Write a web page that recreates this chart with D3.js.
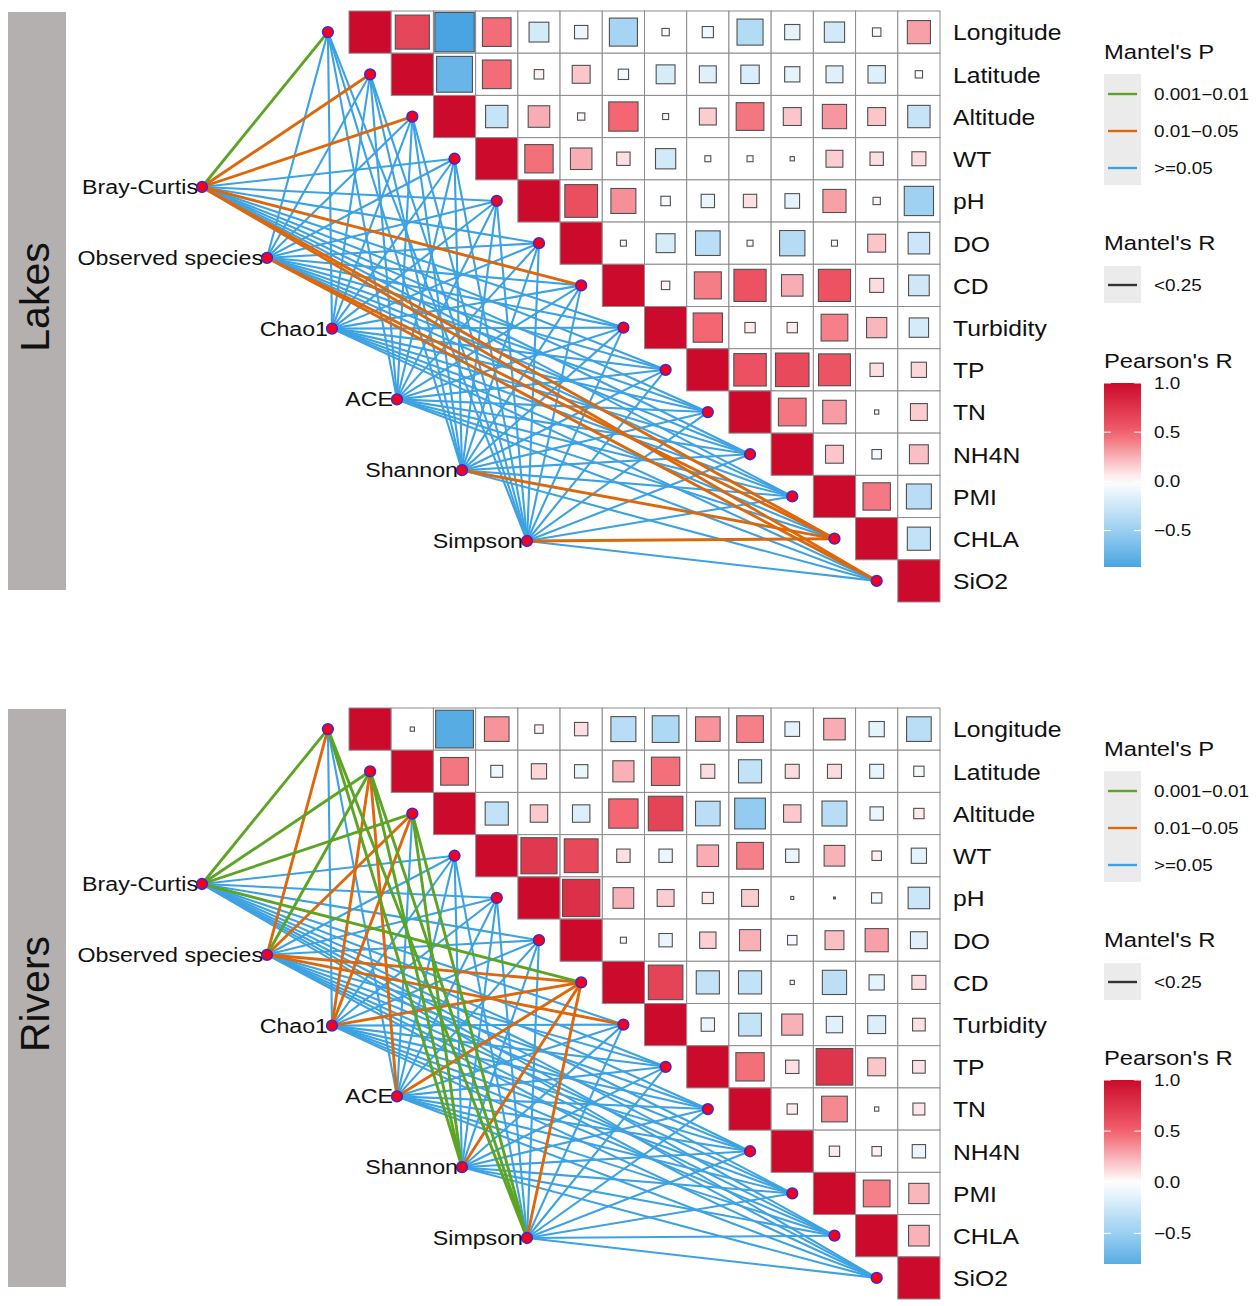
<!DOCTYPE html>
<html>
<head>
<meta charset="utf-8">
<script src="https://cdn.jsdelivr.net/npm/d3@7"></script>
<style>
body { margin: 0; background: #fff; }
text { font-family: "Liberation Sans", Arial, Helvetica, sans-serif; fill: #111; }
</style>
</head>
<body>
<div id="chart"></div>
<script>
// Environmental variables (matrix rows / columns)
var envVars = ["Longitude", "Latitude", "Altitude", "WT", "pH", "DO", "CD",
    "Turbidity", "TP", "TN", "NH4N", "PMI", "CHLA", "SiO2"];

// Community metrics on the left
var speciesNames = ["Bray-Curtis", "Observed species", "Chao1", "ACE", "Shannon", "Simpson"];

// Legend labels
var pLabels = ["0.001\u22120.01", "0.01\u22120.05", ">=0.05"];
var rLabels = ["<0.25"];
var pearsonTicks = [1.0, 0.5, 0.0, -0.5];

// Pearson's R, upper triangle: row i lists columns i+1 .. 13
var lakesCorr = [
    [0.65, -0.87, 0.46, -0.22, -0.10, -0.44, -0.03, -0.07, -0.38, -0.13, -0.23, -0.04, 0.30],
    [-0.72, 0.46, 0.05, 0.18, -0.06, -0.20, -0.16, -0.19, -0.13, -0.16, -0.17, -0.03],
    [-0.28, 0.26, 0.03, 0.48, 0.02, 0.16, 0.43, 0.18, 0.33, 0.18, -0.28],
    [0.45, 0.26, 0.10, -0.23, 0.02, 0.02, 0.01, 0.16, 0.10, 0.11],
    [0.60, 0.35, -0.05, -0.10, 0.10, -0.12, 0.30, 0.03, -0.48],
    [0.02, -0.20, -0.34, 0.02, -0.36, -0.02, 0.18, -0.26],
    [0.04, 0.41, 0.58, 0.26, 0.58, 0.11, -0.24],
    [0.48, 0.06, 0.06, 0.40, 0.23, -0.21],
    [0.59, 0.63, 0.57, 0.10, 0.13],
    [0.43, 0.31, 0.01, 0.16],
    [0.18, -0.05, 0.20],
    [0.42, -0.35],
    [-0.30]
];

var riversCorr = [
    [0.01, -0.80, 0.34, 0.04, 0.10, -0.35, -0.40, 0.34, 0.40, -0.12, 0.26, -0.13, -0.34],
    [0.43, -0.08, 0.13, -0.10, 0.25, 0.45, 0.11, -0.30, 0.11, 0.11, -0.11, -0.06],
    [-0.30, 0.17, -0.17, 0.48, 0.67, -0.34, -0.53, 0.17, -0.35, -0.10, 0.06],
    [0.73, 0.64, 0.10, -0.10, 0.26, 0.40, -0.10, 0.24, 0.05, -0.13],
    [0.78, 0.24, 0.16, 0.07, 0.16, 0.005, 0.002, -0.06, -0.26],
    [0.02, -0.10, 0.15, 0.25, -0.05, 0.20, 0.30, -0.16],
    [0.67, -0.30, -0.30, 0.01, -0.33, -0.13, 0.11],
    [-0.10, -0.29, 0.25, -0.15, -0.18, 0.09],
    [0.45, 0.10, 0.75, 0.18, 0.09],
    [0.06, 0.37, 0.01, 0.08],
    [0.06, 0.05, -0.10],
    [0.40, 0.23],
    [0.24]
];

// Mantel's P class per metric (rows) x env variable (cols): 0 = 0.001-0.01, 1 = 0.01-0.05, 2 = >=0.05
var lakesP = [
    [0, 1, 1, 2, 2, 2, 1, 2, 2, 2, 2, 2, 1, 1],
    [2, 2, 2, 2, 2, 2, 2, 2, 2, 2, 2, 2, 1, 1],
    [2, 2, 2, 2, 2, 2, 2, 2, 2, 2, 2, 2, 2, 2],
    [2, 2, 2, 2, 2, 2, 2, 2, 2, 2, 2, 2, 2, 2],
    [2, 2, 2, 2, 2, 2, 2, 2, 2, 2, 2, 2, 1, 2],
    [2, 2, 2, 2, 2, 2, 2, 2, 2, 2, 2, 2, 1, 2]
];

var riversP = [
    [0, 0, 0, 2, 2, 2, 0, 2, 2, 2, 2, 2, 2, 2],
    [1, 0, 1, 2, 2, 2, 1, 1, 2, 2, 2, 2, 2, 2],
    [2, 1, 1, 2, 2, 2, 1, 2, 2, 2, 2, 2, 2, 2],
    [2, 1, 2, 2, 2, 2, 1, 2, 2, 2, 2, 2, 2, 2],
    [0, 0, 0, 2, 2, 2, 1, 2, 2, 2, 2, 2, 2, 2],
    [0, 0, 0, 2, 2, 2, 1, 2, 2, 2, 2, 2, 2, 2]
];

var pColors = ["#5BA424", "#DD680C", "#3DA2E2"];

var svgWidth = 1259;
var svgHeight = 1306;

var svg = d3.select("#chart")
    .append("svg")
    .attr("width", svgWidth)
    .attr("height", svgHeight);

// text in the figure is a bit wider than it is tall
var stretch = 1.16;

function addText(g, x, y, str, size, anchor) {
    return g.append("text")
        .attr("transform", `translate(${x},${y}) scale(${stretch},1)`)
        .attr("font-size", size)
        .attr("text-anchor", anchor || "start")
        .attr("dominant-baseline", "central")
        .text(str);
}

var fillScale = d3.scaleLinear()
    .domain([-1, -0.5, 0, 0.5, 1])
    .range(["#2C95DC", "#9ACFF1", "#FFFFFF", "#F2606C", "#CB0A2C"]);

var panels = [
    { name: "Lakes", corr: lakesCorr, mantel: lakesP, top: 0 },
    { name: "Rivers", corr: riversCorr, mantel: riversP, top: 697 }
];

var defs = svg.append("defs");

panels.forEach(function(panel, pi) {
    var g = svg.append("g").attr("transform", `translate(0, ${panel.top})`);

    // side strip
    g.append("rect")
        .attr("x", 8).attr("y", 12)
        .attr("width", 58).attr("height", 578)
        .attr("fill", "#B4B0B0");
    g.append("text")
        .attr("transform", "translate(35, 297) rotate(-90)")
        .attr("font-size", 41)
        .attr("text-anchor", "middle")
        .attr("dominant-baseline", "central")
        .text(panel.name);

    // scales for the matrix
    var x = d3.scaleBand().domain(envVars).range([349, 940]);
    var y = d3.scaleBand().domain(envVars).range([11, 602]);
    var bw = x.bandwidth();
    var bh = y.bandwidth();

    var sx = d3.scalePoint().domain(speciesNames).range([202, 527]);
    var sy = d3.scalePoint().domain(speciesNames).range([187, 541]);

    // build cells
    var cells = [];
    envVars.forEach(function(rowName, i) {
        envVars.forEach(function(colName, j) {
            if (j < i) return;
            var r = (i === j) ? 1 : panel.corr[i][j - i - 1];
            cells.push({ row: rowName, col: colName, r: r, diag: i === j });
        });
    });

    var minR = d3.min(cells, d => d.r);

    // Mantel links
    var links = [];
    speciesNames.forEach(function(s, si) {
        envVars.forEach(function(e, ei) {
            links.push({ s: s, e: e, p: panel.mantel[si][ei] });
        });
    });
    links.sort((a, b) => b.p - a.p);

    g.append("g").selectAll("line")
        .data(links)
        .enter()
        .append("line")
        .attr("x1", d => sx(d.s))
        .attr("y1", d => sy(d.s))
        .attr("x2", d => x(d.e) - bw / 2)
        .attr("y2", d => y(d.e) + bh / 2)
        .attr("stroke", d => pColors[d.p])
        .attr("stroke-width", d => d.p === 2 ? 2.1 : 2.9);

    // matrix cells
    var cellG = g.append("g").selectAll("g")
        .data(cells)
        .enter()
        .append("g")
        .attr("transform", d => `translate(${x(d.col)}, ${y(d.row)})`);

    cellG.append("rect")
        .attr("width", bw)
        .attr("height", bh)
        .attr("fill", d => d.diag ? fillScale(1) : "#FFFFFF")
        .attr("stroke", "#8C8C8C")
        .attr("stroke-width", 1);

    cellG.filter(d => !d.diag)
        .append("rect")
        .attr("x", d => (bw - Math.sqrt(Math.abs(d.r)) * bw) / 2)
        .attr("y", d => (bh - Math.sqrt(Math.abs(d.r)) * bh) / 2)
        .attr("width", d => Math.sqrt(Math.abs(d.r)) * bw)
        .attr("height", d => Math.sqrt(Math.abs(d.r)) * bh)
        .attr("fill", d => fillScale(d.r))
        .attr("stroke", "#505050")
        .attr("stroke-width", 1.1);

    // nodes
    g.append("g").selectAll("circle")
        .data(envVars)
        .enter()
        .append("circle")
        .attr("cx", d => x(d) - bw / 2)
        .attr("cy", d => y(d) + bh / 2)
        .attr("r", 5.4)
        .attr("fill", "#F5001E")
        .attr("stroke", "#3A2BD0")
        .attr("stroke-width", 1.5);

    g.append("g").selectAll("circle")
        .data(speciesNames)
        .enter()
        .append("circle")
        .attr("cx", d => sx(d))
        .attr("cy", d => sy(d))
        .attr("r", 5.4)
        .attr("fill", "#F5001E")
        .attr("stroke", "#3A2BD0")
        .attr("stroke-width", 1.5);

    // labels
    envVars.forEach(function(e) {
        addText(g, 953, y(e) + bh / 2 + 1, e, 21.3, "start");
    });
    speciesNames.forEach(function(s) {
        addText(g, sx(s) - 4, sy(s), s, 20, "end");
    });

    // legend: Mantel's P
    var lx = 1104;
    addText(g, lx, 52, "Mantel's P", 20.5, "start");
    g.append("rect")
        .attr("x", lx).attr("y", 74)
        .attr("width", 37).attr("height", 111)
        .attr("fill", "#EBEBEB");
    pLabels.forEach(function(lab, k) {
        var ly = 94 + 37 * k;
        g.append("line")
            .attr("x1", lx + 4).attr("x2", lx + 33)
            .attr("y1", ly).attr("y2", ly)
            .attr("stroke", pColors[k])
            .attr("stroke-width", 2.4);
        addText(g, 1154, ly, lab, 16.3, "start");
    });

    // legend: Mantel's R
    addText(g, lx, 243, "Mantel's R", 20.5, "start");
    g.append("rect")
        .attr("x", lx).attr("y", 266)
        .attr("width", 37).attr("height", 37)
        .attr("fill", "#EBEBEB");
    rLabels.forEach(function(lab) {
        g.append("line")
            .attr("x1", lx + 4).attr("x2", lx + 33)
            .attr("y1", 285).attr("y2", 285)
            .attr("stroke", "#333333")
            .attr("stroke-width", 2.4);
        addText(g, 1154, 285, lab, 16.3, "start");
    });

    // legend: Pearson's R colorbar
    addText(g, lx, 361, "Pearson's R", 20.5, "start");
    var cb = d3.scaleLinear().domain([minR, 1]).range([567, 383]);
    var gradId = "grad" + pi;
    var grad = defs.append("linearGradient")
        .attr("id", gradId)
        .attr("x1", 0).attr("y1", 1)
        .attr("x2", 0).attr("y2", 0);
    d3.range(0, 1.0001, 0.05).forEach(function(t) {
        var v = minR + t * (1 - minR);
        grad.append("stop")
            .attr("offset", t)
            .attr("stop-color", fillScale(v));
    });
    g.append("rect")
        .attr("x", lx).attr("y", 383)
        .attr("width", 37).attr("height", 184)
        .attr("fill", `url(#${gradId})`);
    pearsonTicks.forEach(function(v) {
        var ty = cb(v);
        g.append("line")
            .attr("x1", lx).attr("x2", lx + 7)
            .attr("y1", ty).attr("y2", ty)
            .attr("stroke", "#FFFFFF").attr("stroke-width", 1);
        g.append("line")
            .attr("x1", lx + 30).attr("x2", lx + 37)
            .attr("y1", ty).attr("y2", ty)
            .attr("stroke", "#FFFFFF").attr("stroke-width", 1);
        addText(g, 1154, ty, d3.format(".1f")(v).replace("-", "\u2212"), 16.3, "start");
    });
});
</script>
</body>
</html>
